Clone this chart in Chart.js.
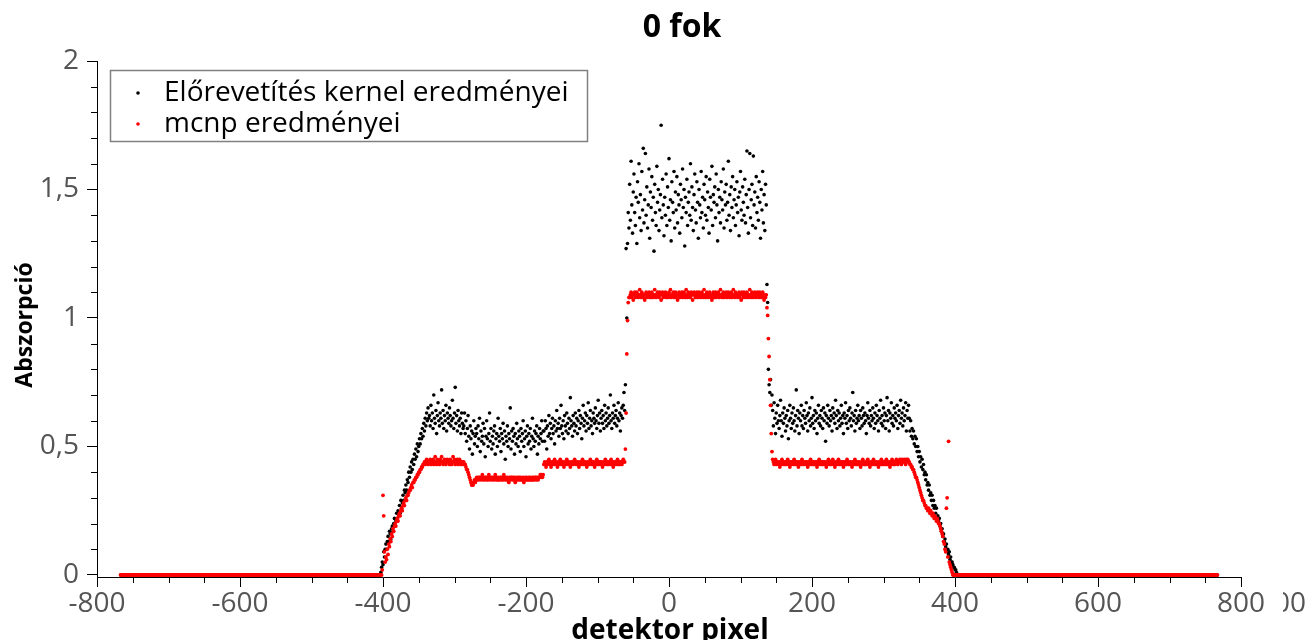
<!DOCTYPE html>
<html>
<head>
<meta charset="utf-8">
<script src="https://cdn.jsdelivr.net/npm/chart.js@4.4.1/dist/chart.umd.min.js"></script>
<style>
html,body{margin:0;padding:0;background:#fff;}
#wrap{width:1308px;height:640px;position:relative;}
</style>
</head>
<body>
<div id="wrap"><canvas id="c" width="1308" height="640"></canvas></div>
<script>
const chartTitle = '0 fok';
const xAxisTitle = 'detektor pixel';
const yAxisTitle = 'Abszorpció';
const seriesNames = ['Előrevetítés kernel eredményei', 'mcnp eredményei'];

const xMajorTicks = [-800, -600, -400, -200, 0, 200, 400, 600, 800];
const xMinorTicks = [-750, -700, -650, -550, -500, -450, -350, -300, -250, -150, -100, -50,
                     50, 100, 150, 250, 300, 350, 450, 500, 550, 650, 700, 750];
const yMajorTicks = [0, 0.5, 1, 1.5, 2];
const yTickLabels = ['0', '0,5', '1', '1,5', '2'];
const yMinorTicks = [0.1, 0.2, 0.3, 0.4, 0.6, 0.7, 0.8, 0.9, 1.1, 1.2, 1.3, 1.4, 1.6, 1.7, 1.8, 1.9];

// detector pixels run from -767 to 767, one value per pixel
const firstPixel = -767;

const kernelValues = [
// -767 … -404
0,0,0,0,0,0,0,0,0,0, 0,0,0,0,0,0,0,0,0,0, 0,0,0,0,0,0,0,0,0,0, 0,0,0,0,0,0,0,0,0,0,
0,0,0,0,0,0,0,0,0,0, 0,0,0,0,0,0,0,0,0,0, 0,0,0,0,0,0,0,0,0,0, 0,0,0,0,0,0,0,0,0,0,
0,0,0,0,0,0,0,0,0,0, 0,0,0,0,0,0,0,0,0,0, 0,0,0,0,0,0,0,0,0,0, 0,0,0,0,0,0,0,0,0,0,
0,0,0,0,0,0,0,0,0,0, 0,0,0,0,0,0,0,0,0,0, 0,0,0,0,0,0,0,0,0,0, 0,0,0,0,0,0,0,0,0,0,
0,0,0,0,0,0,0,0,0,0, 0,0,0,0,0,0,0,0,0,0, 0,0,0,0,0,0,0,0,0,0, 0,0,0,0,0,0,0,0,0,0,
0,0,0,0,0,0,0,0,0,0, 0,0,0,0,0,0,0,0,0,0, 0,0,0,0,0,0,0,0,0,0, 0,0,0,0,0,0,0,0,0,0,
0,0,0,0,0,0,0,0,0,0, 0,0,0,0,0,0,0,0,0,0, 0,0,0,0,0,0,0,0,0,0, 0,0,0,0,0,0,0,0,0,0,
0,0,0,0,0,0,0,0,0,0, 0,0,0,0,0,0,0,0,0,0, 0,0,0,0,0,0,0,0,0,0, 0,0,0,0,0,0,0,0,0,0,
0,0,0,0,0,0,0,0,0,0, 0,0,0,0,0,0,0,0,0,0, 0,0,0,0,0,0,0,0,0,0, 0,0,0,0,0,0,0,0,0,0,
0,0,0,0,
// -403 … -336
0.01,0.03,0.05,0.04,0.09,0.07,0.10,0.12,0.10,0.13,
0.15,0.13,0.17,0.16,0.14,0.18,0.19,0.17,0.20,0.22,
0.19,0.21,0.24,0.22,0.25,0.23,0.27,0.24,0.29,0.26,
0.28,0.31,0.29,0.33,0.32,0.35,0.33,0.37,0.36,0.40,
0.38,0.42,0.40,0.44,0.41,0.45,0.43,0.47,0.45,0.49,
0.46,0.51,0.48,0.50,0.53,0.51,0.55,0.53,0.57,0.54,
0.59,0.56,0.61,0.58,0.63,0.60,0.65,0.61,
// -335 … -288
0.62,0.58,0.66,0.60,0.63,0.57,0.70,0.61,0.59,0.64,
0.55,0.62,0.67,0.60,0.58,0.63,0.61,0.72,0.59,0.64,
0.57,0.62,0.60,0.66,0.56,0.63,0.61,0.59,0.65,0.62,
0.58,0.60,0.68,0.61,0.57,0.63,0.73,0.59,0.62,0.56,
0.64,0.60,0.58,0.61,0.55,0.63,0.59,0.57,
// -287 … -270
0.58,0.63,0.55,0.60,0.52,0.57,0.62,0.54,0.49,0.58,
0.53,0.56,0.47,0.55,0.60,0.51,0.54,0.57,
// -269 … -176
0.55,0.50,0.58,0.53,0.61,0.48,0.56,0.52,0.54,0.59,
0.51,0.57,0.46,0.54,0.60,0.53,0.50,0.55,0.63,0.52,
0.57,0.49,0.54,0.51,0.56,0.58,0.47,0.53,0.55,0.50,
0.61,0.54,0.52,0.57,0.48,0.55,0.53,0.59,0.51,0.56,
0.45,0.54,0.52,0.58,0.50,0.55,0.53,0.65,0.49,0.56,
0.52,0.57,0.54,0.47,0.55,0.51,0.59,0.53,0.50,0.56,
0.54,0.48,0.57,0.52,0.55,0.60,0.50,0.53,0.56,0.46,
0.54,0.58,0.51,0.55,0.52,0.57,0.49,0.54,0.61,0.53,
0.50,0.56,0.52,0.55,0.58,0.47,0.54,0.51,0.57,0.53,
0.55,0.60,0.52,0.56,
// -175 … -62
0.56,0.52,0.60,0.57,0.49,0.58,0.54,0.62,0.55,0.59,
0.53,0.57,0.61,0.55,0.58,0.51,0.60,0.56,0.64,0.57,
0.59,0.54,0.61,0.57,0.66,0.58,0.55,0.60,0.53,0.62,
0.58,0.56,0.63,0.59,0.55,0.61,0.57,0.69,0.60,0.58,
0.54,0.62,0.59,0.56,0.63,0.58,0.61,0.55,0.60,0.64,
0.57,0.62,0.59,0.53,0.61,0.66,0.58,0.60,0.63,0.56,
0.62,0.59,0.67,0.57,0.61,0.64,0.58,0.60,0.55,0.63,
0.61,0.59,0.65,0.60,0.57,0.62,0.68,0.59,0.63,0.56,
0.61,0.64,0.59,0.62,0.57,0.66,0.60,0.63,0.58,0.61,
0.65,0.59,0.62,0.70,0.60,0.57,0.63,0.61,0.66,0.59,
0.62,0.64,0.58,0.61,0.67,0.60,0.63,0.56,0.62,0.65,
0.61,0.66,0.71,0.64,
// -61 … -56
0.74,1.27,1.00,1.29,1.41,1.35,
// -55 … 136
1.52,1.38,1.61,1.44,1.33,1.49,1.56,1.41,1.36,1.47,
1.29,1.53,1.45,1.60,1.39,1.48,1.34,1.57,1.42,1.66,
1.37,1.46,1.64,1.40,1.51,1.35,1.44,1.58,1.31,1.49,
1.43,1.55,1.38,1.47,1.26,1.52,1.41,1.36,1.59,1.45,
1.50,1.34,1.42,1.48,1.75,1.39,1.54,1.44,1.32,1.47,
1.40,1.56,1.36,1.51,1.43,1.62,1.38,1.46,1.30,1.53,
1.45,1.41,1.57,1.35,1.49,1.42,1.55,1.37,1.48,1.44,
1.33,1.52,1.46,1.39,1.58,1.43,1.50,1.28,1.47,1.41,
1.54,1.36,1.45,1.49,1.40,1.60,1.38,1.51,1.43,1.34,
1.48,1.56,1.42,1.37,1.53,1.45,1.31,1.50,1.44,1.39,
1.57,1.41,1.47,1.35,1.52,1.46,1.40,1.55,1.38,1.49,
1.43,1.33,1.54,1.47,1.42,1.59,1.36,1.48,1.45,1.51,
1.39,1.56,1.44,1.30,1.50,1.41,1.47,1.37,1.53,1.46,
1.42,1.58,1.35,1.49,1.44,1.52,1.38,1.45,1.61,1.40,
1.48,1.34,1.51,1.43,1.55,1.39,1.46,1.50,1.36,1.44,
1.53,1.41,1.47,1.32,1.49,1.57,1.42,1.38,1.51,1.45,
1.40,1.54,1.37,1.48,1.65,1.43,1.33,1.50,1.64,1.39,
1.46,1.52,1.36,1.63,1.44,1.49,1.35,1.55,1.41,1.47,
1.38,1.53,1.45,1.31,1.50,1.42,1.57,1.37,1.48,1.34,
1.52,1.44,
// 137 … 143
1.13,1.06,0.80,0.74,0.71,0.76,0.66,
// 144 … 335
0.70,0.64,0.58,0.67,0.61,0.55,0.63,0.59,0.66,0.60,
0.57,0.62,0.68,0.60,0.54,0.63,0.59,0.65,0.61,0.56,
0.62,0.58,0.64,0.53,0.60,0.66,0.61,0.57,0.63,0.59,
0.65,0.60,0.56,0.62,0.72,0.58,0.64,0.61,0.55,0.63,
0.60,0.66,0.58,0.62,0.57,0.64,0.61,0.59,0.67,0.62,
0.56,0.63,0.60,0.65,0.58,0.61,0.69,0.59,0.62,0.57,
0.64,0.60,0.63,0.55,0.61,0.66,0.59,0.62,0.58,0.64,
0.61,0.57,0.65,0.60,0.63,0.52,0.62,0.59,0.66,0.61,
0.58,0.64,0.60,0.62,0.56,0.65,0.61,0.63,0.59,0.68,
0.62,0.57,0.64,0.60,0.63,0.58,0.61,0.66,0.59,0.62,
0.55,0.63,0.61,0.67,0.59,0.62,0.57,0.64,0.60,0.65,
0.61,0.58,0.63,0.71,0.60,0.62,0.56,0.64,0.59,0.61,
0.66,0.60,0.62,0.57,0.64,0.61,0.58,0.65,0.62,0.59,
0.63,0.60,0.55,0.62,0.67,0.61,0.59,0.64,0.58,0.62,
0.60,0.65,0.61,0.57,0.63,0.59,0.66,0.62,0.60,0.56,
0.64,0.61,0.68,0.59,0.62,0.58,0.65,0.60,0.63,0.57,
0.62,0.69,0.60,0.64,0.56,0.63,0.61,0.67,0.59,0.62,
0.58,0.65,0.61,0.63,0.60,0.66,0.57,0.62,0.64,0.59,
0.68,0.61,0.63,0.58,0.65,0.60,0.62,0.67,0.56,0.64,
0.61,0.66,
// 336 … 403
0.61,0.56,0.60,0.54,0.57,0.53,0.56,0.51,0.54,0.50,
0.53,0.48,0.50,0.46,0.48,0.44,0.46,0.42,0.45,0.41,
0.43,0.39,0.40,0.37,0.39,0.35,0.36,0.33,0.35,0.31,
0.32,0.29,0.31,0.27,0.29,0.26,0.27,0.24,0.26,0.22,
0.23,0.21,0.22,0.19,0.20,0.17,0.18,0.15,0.16,0.13,
0.14,0.11,0.12,0.09,0.10,0.08,0.09,0.06,0.07,0.05,
0.05,0.04,0.03,0.03,0.02,0.02,0.01,0,
// 404 … 767
0,0,0,0,0,0,0,0,0,0, 0,0,0,0,0,0,0,0,0,0, 0,0,0,0,0,0,0,0,0,0, 0,0,0,0,0,0,0,0,0,0,
0,0,0,0,0,0,0,0,0,0, 0,0,0,0,0,0,0,0,0,0, 0,0,0,0,0,0,0,0,0,0, 0,0,0,0,0,0,0,0,0,0,
0,0,0,0,0,0,0,0,0,0, 0,0,0,0,0,0,0,0,0,0, 0,0,0,0,0,0,0,0,0,0, 0,0,0,0,0,0,0,0,0,0,
0,0,0,0,0,0,0,0,0,0, 0,0,0,0,0,0,0,0,0,0, 0,0,0,0,0,0,0,0,0,0, 0,0,0,0,0,0,0,0,0,0,
0,0,0,0,0,0,0,0,0,0, 0,0,0,0,0,0,0,0,0,0, 0,0,0,0,0,0,0,0,0,0, 0,0,0,0,0,0,0,0,0,0,
0,0,0,0,0,0,0,0,0,0, 0,0,0,0,0,0,0,0,0,0, 0,0,0,0,0,0,0,0,0,0, 0,0,0,0,0,0,0,0,0,0,
0,0,0,0,0,0,0,0,0,0, 0,0,0,0,0,0,0,0,0,0, 0,0,0,0,0,0,0,0,0,0, 0,0,0,0,0,0,0,0,0,0,
0,0,0,0,0,0,0,0,0,0, 0,0,0,0,0,0,0,0,0,0, 0,0,0,0,0,0,0,0,0,0, 0,0,0,0,0,0,0,0,0,0,
0,0,0,0,0,0,0,0,0,0, 0,0,0,0,0,0,0,0,0,0, 0,0,0,0,0,0,0,0,0,0, 0,0,0,0,0,0,0,0,0,0,
0,0,0,0
];

const mcnpValues = [
// -767 … -404
0,0,0,0,0,0,0,0,0,0, 0,0,0,0,0,0,0,0,0,0, 0,0,0,0,0,0,0,0,0,0, 0,0,0,0,0,0,0,0,0,0,
0,0,0,0,0,0,0,0,0,0, 0,0,0,0,0,0,0,0,0,0, 0,0,0,0,0,0,0,0,0,0, 0,0,0,0,0,0,0,0,0,0,
0,0,0,0,0,0,0,0,0,0, 0,0,0,0,0,0,0,0,0,0, 0,0,0,0,0,0,0,0,0,0, 0,0,0,0,0,0,0,0,0,0,
0,0,0,0,0,0,0,0,0,0, 0,0,0,0,0,0,0,0,0,0, 0,0,0,0,0,0,0,0,0,0, 0,0,0,0,0,0,0,0,0,0,
0,0,0,0,0,0,0,0,0,0, 0,0,0,0,0,0,0,0,0,0, 0,0,0,0,0,0,0,0,0,0, 0,0,0,0,0,0,0,0,0,0,
0,0,0,0,0,0,0,0,0,0, 0,0,0,0,0,0,0,0,0,0, 0,0,0,0,0,0,0,0,0,0, 0,0,0,0,0,0,0,0,0,0,
0,0,0,0,0,0,0,0,0,0, 0,0,0,0,0,0,0,0,0,0, 0,0,0,0,0,0,0,0,0,0, 0,0,0,0,0,0,0,0,0,0,
0,0,0,0,0,0,0,0,0,0, 0,0,0,0,0,0,0,0,0,0, 0,0,0,0,0,0,0,0,0,0, 0,0,0,0,0,0,0,0,0,0,
0,0,0,0,0,0,0,0,0,0, 0,0,0,0,0,0,0,0,0,0, 0,0,0,0,0,0,0,0,0,0, 0,0,0,0,0,0,0,0,0,0,
0,0,0,0,
// -403 … -336
0,0,0.02,0.31,0.23,0.09,0.05,0.07,0.06,0.10,
0.08,0.12,0.11,0.14,0.13,0.16,0.15,0.18,0.17,0.19,
0.20,0.19,0.21,0.22,0.21,0.23,0.24,0.23,0.25,0.26,
0.25,0.27,0.28,0.27,0.29,0.30,0.29,0.31,0.31,0.32,
0.33,0.33,0.34,0.35,0.34,0.36,0.36,0.37,0.37,0.38,
0.38,0.39,0.39,0.40,0.40,0.41,0.41,0.42,0.42,0.43,
0.43,0.44,0.43,0.44,0.45,0.44,0.43,0.44,
// -335 … -288
0.44,0.45,0.43,0.44,0.44,0.45,0.43,0.44,0.46,0.44,
0.43,0.45,0.44,0.44,0.43,0.45,0.44,0.46,0.44,0.43,
0.44,0.45,0.44,0.43,0.44,0.45,0.44,0.44,0.43,0.45,
0.44,0.43,0.44,0.46,0.44,0.45,0.43,0.44,0.44,0.45,
0.43,0.44,0.45,0.44,0.43,0.44,0.44,0.43,
// -287 … -270
0.44,0.43,0.43,0.42,0.41,0.41,0.40,0.39,0.38,0.37,
0.36,0.35,0.36,0.35,0.36,0.37,0.36,0.37,
// -269 … -176
0.38,0.37,0.38,0.37,0.38,0.38,0.37,0.38,0.39,0.37,
0.38,0.37,0.38,0.38,0.37,0.38,0.37,0.39,0.38,0.37,
0.38,0.38,0.37,0.38,0.37,0.38,0.39,0.37,0.38,0.37,
0.38,0.37,0.37,0.38,0.38,0.37,0.38,0.37,0.39,0.38,
0.37,0.38,0.37,0.38,0.37,0.36,0.38,0.37,0.38,0.38,
0.37,0.38,0.37,0.38,0.36,0.37,0.38,0.37,0.38,0.37,
0.38,0.37,0.38,0.37,0.37,0.38,0.36,0.37,0.38,0.37,
0.38,0.37,0.37,0.38,0.37,0.38,0.37,0.37,0.38,0.37,
0.38,0.37,0.38,0.38,0.37,0.38,0.37,0.38,0.38,0.39,
0.38,0.39,0.38,0.39,
// -175 … -62
0.43,0.44,0.43,0.42,0.44,0.43,0.44,0.45,0.43,0.44,
0.42,0.43,0.44,0.44,0.43,0.45,0.43,0.44,0.43,0.42,
0.44,0.43,0.44,0.45,0.43,0.44,0.43,0.44,0.42,0.43,
0.44,0.43,0.45,0.44,0.43,0.44,0.43,0.42,0.44,0.43,
0.44,0.43,0.44,0.45,0.44,0.43,0.44,0.43,0.44,0.42,
0.43,0.44,0.43,0.44,0.45,0.43,0.44,0.43,0.44,0.43,
0.42,0.44,0.43,0.44,0.43,0.45,0.44,0.43,0.44,0.43,
0.44,0.42,0.43,0.44,0.45,0.43,0.44,0.43,0.44,0.44,
0.43,0.44,0.42,0.43,0.44,0.43,0.45,0.44,0.43,0.44,
0.43,0.44,0.44,0.43,0.45,0.43,0.44,0.42,0.44,0.43,
0.44,0.43,0.44,0.45,0.43,0.44,0.43,0.44,0.44,0.43,
0.44,0.45,0.44,0.44,
// -61 … -56
0.49,0.63,0.86,0.99,1.06,1.08,
// -55 … 136
1.08,1.09,1.10,1.08,1.09,1.07,1.09,1.10,1.08,1.09,
1.10,1.09,1.08,1.09,1.11,1.09,1.08,1.10,1.09,1.08,
1.09,1.07,1.09,1.10,1.08,1.09,1.09,1.10,1.08,1.09,
1.08,1.10,1.09,1.08,1.09,1.11,1.09,1.08,1.09,1.10,
1.09,1.08,1.10,1.09,1.07,1.09,1.10,1.08,1.09,1.09,
1.10,1.08,1.09,1.09,1.08,1.10,1.09,1.11,1.08,1.09,
1.09,1.10,1.08,1.09,1.10,1.08,1.09,1.07,1.09,1.10,
1.08,1.09,1.09,1.10,1.08,1.09,1.10,1.09,1.08,1.11,
1.09,1.08,1.10,1.09,1.09,1.08,1.10,1.09,1.07,1.09,
1.10,1.09,1.08,1.09,1.10,1.08,1.09,1.10,1.09,1.08,
1.09,1.10,1.09,1.08,1.11,1.09,1.08,1.09,1.10,1.09,
1.08,1.09,1.10,1.09,1.08,1.07,1.09,1.10,1.08,1.09,
1.10,1.08,1.09,1.09,1.10,1.08,1.09,1.11,1.09,1.08,
1.09,1.10,1.08,1.09,1.09,1.10,1.08,1.09,1.10,1.09,
1.08,1.09,1.10,1.08,1.09,1.11,1.09,1.08,1.10,1.09,
1.09,1.08,1.09,1.10,1.08,1.09,1.07,1.10,1.09,1.08,
1.10,1.09,1.08,1.09,1.10,1.09,1.08,1.09,1.11,1.09,
1.08,1.10,1.09,1.08,1.09,1.10,1.09,1.08,1.09,1.10,
1.09,1.08,1.10,1.09,1.08,1.09,1.10,1.08,1.07,1.09,
1.08,1.09,
// 137 … 143
1.04,1.01,0.92,0.85,0.76,0.66,0.55,
// 144 … 335
0.48,0.45,0.44,0.43,0.44,0.45,0.43,0.44,0.44,0.43,
0.44,0.42,0.44,0.43,0.45,0.44,0.43,0.44,0.43,0.44,
0.43,0.44,0.45,0.43,0.44,0.42,0.44,0.43,0.44,0.44,
0.43,0.45,0.44,0.43,0.44,0.43,0.44,0.42,0.44,0.43,
0.44,0.43,0.45,0.44,0.43,0.44,0.43,0.44,0.44,0.43,
0.42,0.44,0.43,0.44,0.45,0.43,0.44,0.43,0.44,0.43,
0.44,0.43,0.44,0.42,0.44,0.43,0.45,0.44,0.43,0.44,
0.43,0.44,0.43,0.44,0.44,0.43,0.42,0.44,0.43,0.45,
0.44,0.43,0.44,0.43,0.44,0.45,0.43,0.44,0.42,0.43,
0.44,0.43,0.44,0.45,0.43,0.44,0.43,0.44,0.43,0.44,
0.42,0.44,0.43,0.44,0.43,0.45,0.44,0.43,0.44,0.43,
0.44,0.43,0.42,0.44,0.43,0.44,0.45,0.43,0.44,0.43,
0.44,0.43,0.44,0.43,0.42,0.44,0.43,0.45,0.44,0.43,
0.43,0.44,0.43,0.44,0.45,0.43,0.44,0.42,0.43,0.44,
0.44,0.43,0.45,0.44,0.43,0.44,0.43,0.44,0.43,0.42,
0.44,0.43,0.44,0.45,0.43,0.44,0.43,0.44,0.44,0.43,
0.45,0.43,0.44,0.43,0.44,0.42,0.44,0.43,0.45,0.44,
0.43,0.44,0.43,0.44,0.45,0.44,0.43,0.44,0.44,0.45,
0.44,0.43,0.45,0.44,0.44,0.45,0.44,0.43,0.45,0.44,
0.45,0.44,
// 336 … 403
0.44,0.43,0.43,0.42,0.42,0.41,0.41,0.40,0.39,0.38,
0.38,0.37,0.36,0.35,0.34,0.33,0.32,0.31,0.30,0.29,
0.29,0.28,0.27,0.27,0.26,0.26,0.25,0.26,0.25,0.24,
0.25,0.24,0.23,0.24,0.23,0.22,0.23,0.22,0.21,0.22,
0.21,0.20,0.20,0.19,0.18,0.17,0.16,0.15,0.13,0.12,
0.10,0.09,0.26,0.30,0.07,0.52,0.05,0.04,0.03,0.02,
0.01,0,0,0,0,0,0,0,
// 404 … 767
0,0,0,0,0,0,0,0,0,0, 0,0,0,0,0,0,0,0,0,0, 0,0,0,0,0,0,0,0,0,0, 0,0,0,0,0,0,0,0,0,0,
0,0,0,0,0,0,0,0,0,0, 0,0,0,0,0,0,0,0,0,0, 0,0,0,0,0,0,0,0,0,0, 0,0,0,0,0,0,0,0,0,0,
0,0,0,0,0,0,0,0,0,0, 0,0,0,0,0,0,0,0,0,0, 0,0,0,0,0,0,0,0,0,0, 0,0,0,0,0,0,0,0,0,0,
0,0,0,0,0,0,0,0,0,0, 0,0,0,0,0,0,0,0,0,0, 0,0,0,0,0,0,0,0,0,0, 0,0,0,0,0,0,0,0,0,0,
0,0,0,0,0,0,0,0,0,0, 0,0,0,0,0,0,0,0,0,0, 0,0,0,0,0,0,0,0,0,0, 0,0,0,0,0,0,0,0,0,0,
0,0,0,0,0,0,0,0,0,0, 0,0,0,0,0,0,0,0,0,0, 0,0,0,0,0,0,0,0,0,0, 0,0,0,0,0,0,0,0,0,0,
0,0,0,0,0,0,0,0,0,0, 0,0,0,0,0,0,0,0,0,0, 0,0,0,0,0,0,0,0,0,0, 0,0,0,0,0,0,0,0,0,0,
0,0,0,0,0,0,0,0,0,0, 0,0,0,0,0,0,0,0,0,0, 0,0,0,0,0,0,0,0,0,0, 0,0,0,0,0,0,0,0,0,0,
0,0,0,0,0,0,0,0,0,0, 0,0,0,0,0,0,0,0,0,0, 0,0,0,0,0,0,0,0,0,0, 0,0,0,0,0,0,0,0,0,0,
0,0,0,0
];

const FONT = "'Open Sans', sans-serif";
const seriesColors = ['#000000', '#ff0000'];

function toPoints(values) {
  return values.map((v, i) => ({ x: firstPixel + i, y: v }));
}

const decorPlugin = {
  id: 'decor',
  afterDraw(chart) {
    const ctx = chart.ctx;
    const xs = chart.scales.x, ys = chart.scales.y;
    ctx.save();
    // minor ticks
    ctx.strokeStyle = '#000';
    ctx.lineWidth = 1;
    ctx.beginPath();
    xMinorTicks.forEach(v => {
      const px = Math.round(xs.getPixelForValue(v)) + 0.5;
      ctx.moveTo(px, xs.top);
      ctx.lineTo(px, xs.top + 6);
    });
    yMinorTicks.forEach(v => {
      const py = Math.round(ys.getPixelForValue(v)) + 0.5;
      ctx.moveTo(ys.right, py);
      ctx.lineTo(ys.right - 6, py);
    });
    ctx.stroke();

    // chart title
    ctx.fillStyle = '#000';
    ctx.textAlign = 'center';
    ctx.textBaseline = 'middle';
    ctx.font = 'bold 32px ' + FONT;
    ctx.fillText(chartTitle, 682, 28);

    // axis titles
    ctx.font = 'bold 28px ' + FONT;
    ctx.textBaseline = 'alphabetic';
    ctx.fillText(xAxisTitle, 670, 639);
    ctx.save();
    ctx.translate(25, 325);
    ctx.rotate(-Math.PI / 2);
    ctx.textBaseline = 'middle';
    ctx.font = 'bold 23px ' + FONT;
    ctx.fillText(yAxisTitle, 0, 0);
    ctx.restore();

    // legend
    ctx.fillStyle = '#fff';
    ctx.fillRect(110, 70, 478, 72);
    ctx.strokeStyle = '#808080';
    ctx.lineWidth = 1.5;
    ctx.strokeRect(110.5, 70.5, 477, 71);
    ctx.textAlign = 'left';
    ctx.textBaseline = 'middle';
    ctx.font = '28px ' + FONT;
    const legendY = [93, 124];
    seriesNames.forEach((name, k) => {
      ctx.fillStyle = seriesColors[k];
      ctx.beginPath();
      ctx.arc(138, legendY[k], 1.8, 0, Math.PI * 2);
      ctx.fill();
      ctx.fillStyle = '#000';
      ctx.fillText(name, 164, legendY[k]);
    });

    // clipped label at the right edge
    ctx.save();
    ctx.beginPath();
    ctx.rect(1283, 585, 25, 40);
    ctx.clip();
    ctx.fillStyle = '#555';
    ctx.font = '28px ' + FONT;
    ctx.textAlign = 'left';
    ctx.textBaseline = 'middle';
    ctx.fillText('00', 1274, 604);
    ctx.restore();

    if (kernelValues.length !== 1535 || mcnpValues.length !== 1535) {
      ctx.fillStyle = 'blue';
      ctx.fillText('LEN ' + kernelValues.length + ' ' + mcnpValues.length, 700, 100);
    }
    ctx.restore();
  }
};

new Chart(document.getElementById('c'), {
  type: 'scatter',
  data: {
    datasets: [
      { label: seriesNames[0], data: toPoints(kernelValues), backgroundColor: seriesColors[0],
        pointRadius: 1.8, pointBorderWidth: 0, pointHoverRadius: 0, order: 1 },
      { label: seriesNames[1], data: toPoints(mcnpValues), backgroundColor: seriesColors[1],
        pointRadius: 1.9, pointBorderWidth: 0, pointHoverRadius: 0, order: 0 }
    ]
  },
  options: {
    responsive: false,
    animation: false,
    events: [],
    layout: { padding: { top: 61, right: 67, left: 0, bottom: 0 } },
    plugins: { legend: { display: false }, tooltip: { enabled: false }, title: { display: false } },
    scales: {
      x: {
        type: 'linear',
        min: -800, max: 800,
        afterBuildTicks: s => { s.ticks = xMajorTicks.map(v => ({ value: v })); },
        afterFit: s => { s.height = 63; },
        ticks: { autoSkip: false, maxRotation: 0, padding: 0, color: '#555',
                 font: { family: FONT, size: 28 }, callback: v => String(v) },
        grid: { drawOnChartArea: false, tickLength: 10, tickColor: '#000', lineWidth: 1 },
        border: { display: true, color: '#000', width: 1 }
      },
      y: {
        type: 'linear',
        min: -0.008, max: 2,
        afterBuildTicks: s => { s.ticks = yMajorTicks.map(v => ({ value: v })); },
        afterFit: s => { s.width = 97; },
        ticks: { autoSkip: false, padding: 8, color: '#555',
                 font: { family: FONT, size: 28 },
                 callback: (v, i) => yTickLabels[i] },
        grid: { drawOnChartArea: false, tickLength: 10, tickColor: '#000', lineWidth: 1 },
        border: { display: true, color: '#000', width: 1 }
      }
    }
  },
  plugins: [decorPlugin]
});
</script>
</body>
</html>
